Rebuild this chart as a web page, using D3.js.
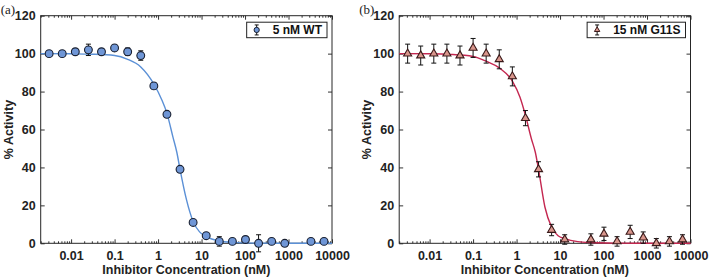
<!DOCTYPE html>
<html>
<head>
<meta charset="utf-8">
<script src="https://cdn.jsdelivr.net/npm/d3@7"></script>
<style>
  body { margin: 0; background: #fff; }
  svg { display: block; }
  .tick text { font-family: "Liberation Sans", Arial, sans-serif; font-weight: bold; font-size: 12.5px; fill: #222; }
  .tick line { stroke: #333; }
</style>
</head>
<body>
<div id="chart"></div>
<script>
// inhibitor concentrations (nM), 2-fold dilutions
const conc = [0.003125, 0.00625, 0.0125, 0.025, 0.05, 0.1, 0.2, 0.4, 0.8, 1.6, 3.2, 6.4,
              12.8, 25.6, 51.2, 102.4, 204.8, 409.6, 819.2, 1638.4, 3276.8, 6553.6];

// panel (a) 5 nM WT
const actWT = [100, 100, 101, 102, 101, 103, 101, 99, 83, 68, 39, 11, 4, 1, 1, 2, 0, 1, 0, null, 1, 1];
const errWT = [1.5, 1.5, 1.5, 3, 1.5, 1.5, 2, 2.5, 1.5, 1.5, 1.5, 1.5, 1.5, 2.5, 1, 1.5, 4.5, 1.5, 1.5, null, 1, 1];

// panel (b) 15 nM G11S
const actG11S = [100, 99, 100, 100, 99, 103, 100, 97, 88, 66, 39, 7, 2, null, 2, 5, 1, 6, 3, 0, 1, 2];
const errG11S = [5, 5, 5, 5, 5, 5, 5, 5, 5, 4, 4, 3, 2.5, null, 3, 3.5, 2.5, 3.5, 3, 2.5, 2.5, 2.5];

// fitted curves
const fitConc = [0.002, 0.01, 0.03, 0.1, 0.2, 0.4, 0.8, 1.2, 1.6, 2.2, 2.7, 3.2, 4.5, 6.4, 9, 12.8, 25.6, 51.2, 200, 1000, 10000];
const fitWT   = [100, 99.9, 99.7, 99, 97, 93, 84, 76, 68.5, 56, 48, 39, 23, 11.5, 6, 3.5, 1.2, 0.5, 0.1, 0, 0];
const fitG11S = [100, 99.9, 99.6, 98.5, 96, 92.5, 85.5, 77, 67.5, 55, 48, 39, 19, 8.5, 4, 2.5, 0.9, 0.4, 0.1, 0, 0];

const xMajor = [0.01, 0.1, 1, 10, 100, 1000, 10000];
const xMinor = [];
[0.001, 0.01, 0.1, 1, 10, 100, 1000].forEach(d => [2,3,4,5,6,7,8,9].forEach(k => { if (d*k >= 0.002) xMinor.push(d*k); }));
const yTicks = [0, 20, 40, 60, 80, 100, 120];

const width = 709, height = 278;
const svg = d3.select("#chart").append("svg").attr("width", width).attr("height", height);

function drawPanel(opts) {
    const left = opts.left, right = opts.left + 291.3, top = 15.7, bottom = 243.3;
    const g = svg.append("g");

    const x = d3.scaleLog().domain([0.002, 10000]).range([left, right]);
    const y = d3.scaleLinear().domain([0, 120]).range([bottom, top]);

    // axes, ticks inward on all four sides
    g.append("g").attr("transform", `translate(0,${bottom})`)
        .call(d3.axisBottom(x).tickValues(xMajor).tickSize(-4).tickPadding(8).tickFormat(d3.format("~g")))
        .call(a => a.select(".domain").remove());
    g.append("g").attr("transform", `translate(0,${bottom})`)
        .call(d3.axisBottom(x).tickValues(xMinor).tickSize(-2).tickFormat(""))
        .call(a => a.select(".domain").remove());
    g.append("g").attr("transform", `translate(0,${top})`)
        .call(d3.axisTop(x).tickValues(xMajor).tickSize(-4).tickFormat(""))
        .call(a => a.select(".domain").remove());
    g.append("g").attr("transform", `translate(0,${top})`)
        .call(d3.axisTop(x).tickValues(xMinor).tickSize(-2).tickFormat(""))
        .call(a => a.select(".domain").remove());
    g.append("g").attr("transform", `translate(${left},0)`)
        .call(d3.axisLeft(y).tickValues(yTicks).tickSize(-4).tickPadding(5))
        .call(a => a.select(".domain").remove());
    g.append("g").attr("transform", `translate(${right},0)`)
        .call(d3.axisRight(y).tickValues(yTicks).tickSize(-4).tickFormat(""))
        .call(a => a.select(".domain").remove());

    g.append("rect")
        .attr("x", left).attr("y", top)
        .attr("width", right - left).attr("height", bottom - top)
        .attr("fill", "none").attr("stroke", "#262626").attr("stroke-width", 1);

    // fit curve
    const fit = fitConc.map((c, i) => [c, opts.fit[i]]);
    g.append("path")
        .datum(fit)
        .attr("fill", "none")
        .attr("stroke", opts.lineColor)
        .attr("stroke-width", 1.4)
        .attr("d", d3.line().x(d => x(d[0])).y(d => y(d[1])).curve(d3.curveMonotoneX));

    const pts = conc.map((c, i) => ({ c, v: opts.act[i], e: opts.err[i] })).filter(d => d.v != null);

    // error bars
    const eb = g.append("g").attr("stroke", "#111").attr("stroke-width", 1);
    pts.forEach(d => {
        const cx = x(d.c);
        eb.append("line").attr("x1", cx).attr("x2", cx).attr("y1", y(d.v - d.e)).attr("y2", y(d.v + d.e));
        eb.append("line").attr("x1", cx - 2.5).attr("x2", cx + 2.5).attr("y1", y(d.v + d.e)).attr("y2", y(d.v + d.e));
        eb.append("line").attr("x1", cx - 2.5).attr("x2", cx + 2.5).attr("y1", y(d.v - d.e)).attr("y2", y(d.v - d.e));
    });

    // markers
    const sym = d3.symbol().type(opts.symbol).size(opts.symSize);
    g.selectAll(".pt")
        .data(pts)
        .join("path")
        .attr("class", "pt")
        .attr("transform", d => `translate(${x(d.c)},${y(d.v)})`)
        .attr("d", sym)
        .attr("fill", opts.fill)
        .attr("stroke", opts.stroke)
        .attr("stroke-width", 1.1);

    // legend
    const lg = g.append("g");
    const lt = lg.append("text")
        .attr("y", top + 18.5)
        .style("font-family", "Liberation Sans, Arial, sans-serif")
        .style("font-weight", "bold").style("font-size", "12px").attr("fill", "#111")
        .text(opts.label);
    const tw = lt.node().getComputedTextLength();
    const bw = tw + 31, bx = right - 5 - bw, by = top + 6.5;
    lt.attr("x", bx + 26);
    lg.insert("rect", "text")
        .attr("x", bx).attr("y", by).attr("width", bw).attr("height", 15.5)
        .attr("fill", "#fff").attr("stroke", "#222").attr("stroke-width", 1);
    const ix = bx + 10, iy = by + 7.75;
    lg.append("line").attr("x1", ix).attr("x2", ix).attr("y1", iy - 5).attr("y2", iy + 5).attr("stroke", "#111");
    lg.append("line").attr("x1", ix - 2).attr("x2", ix + 2).attr("y1", iy - 5).attr("y2", iy - 5).attr("stroke", "#111");
    lg.append("line").attr("x1", ix - 2).attr("x2", ix + 2).attr("y1", iy + 5).attr("y2", iy + 5).attr("stroke", "#111");
    lg.append("path").attr("transform", `translate(${ix},${iy})`)
        .attr("d", d3.symbol().type(opts.symbol).size(opts.symSize * 0.45))
        .attr("fill", opts.fill).attr("stroke", opts.stroke).attr("stroke-width", 1);

    // axis titles
    g.append("text")
        .attr("x", (left + right) / 2).attr("y", 274)
        .attr("text-anchor", "middle")
        .style("font-family", "Liberation Sans, Arial, sans-serif")
        .style("font-weight", "bold").style("font-size", "12.5px").attr("fill", "#222")
        .text("Inhibitor Concentration (nM)");
    g.append("text")
        .attr("transform", `translate(${left - 28},${(top + bottom) / 2}) rotate(-90)`)
        .attr("text-anchor", "middle")
        .style("font-family", "Liberation Sans, Arial, sans-serif")
        .style("font-weight", "bold").style("font-size", "12.5px").attr("fill", "#222")
        .text("% Activity");

    // panel tag
    g.append("text")
        .attr("x", left - 40).attr("y", 14)
        .style("font-family", "Liberation Serif, serif")
        .style("font-size", "13px").attr("fill", "#222")
        .text(opts.tag);
}

drawPanel({
    left: 40.7, tag: "(a)", label: "5 nM WT",
    act: actWT, err: errWT, fit: fitWT,
    symbol: d3.symbolCircle, symSize: 48,
    fill: "#6f96d6", stroke: "#1a2030", lineColor: "#5b90d6"
});
drawPanel({
    left: 399.2, tag: "(b)", label: "15 nM G11S",
    act: actG11S, err: errG11S, fit: fitG11S,
    symbol: d3.symbolTriangle, symSize: 28,
    fill: "#d9968c", stroke: "#3a1a1a", lineColor: "#c42750"
});
</script>
</body>
</html>
